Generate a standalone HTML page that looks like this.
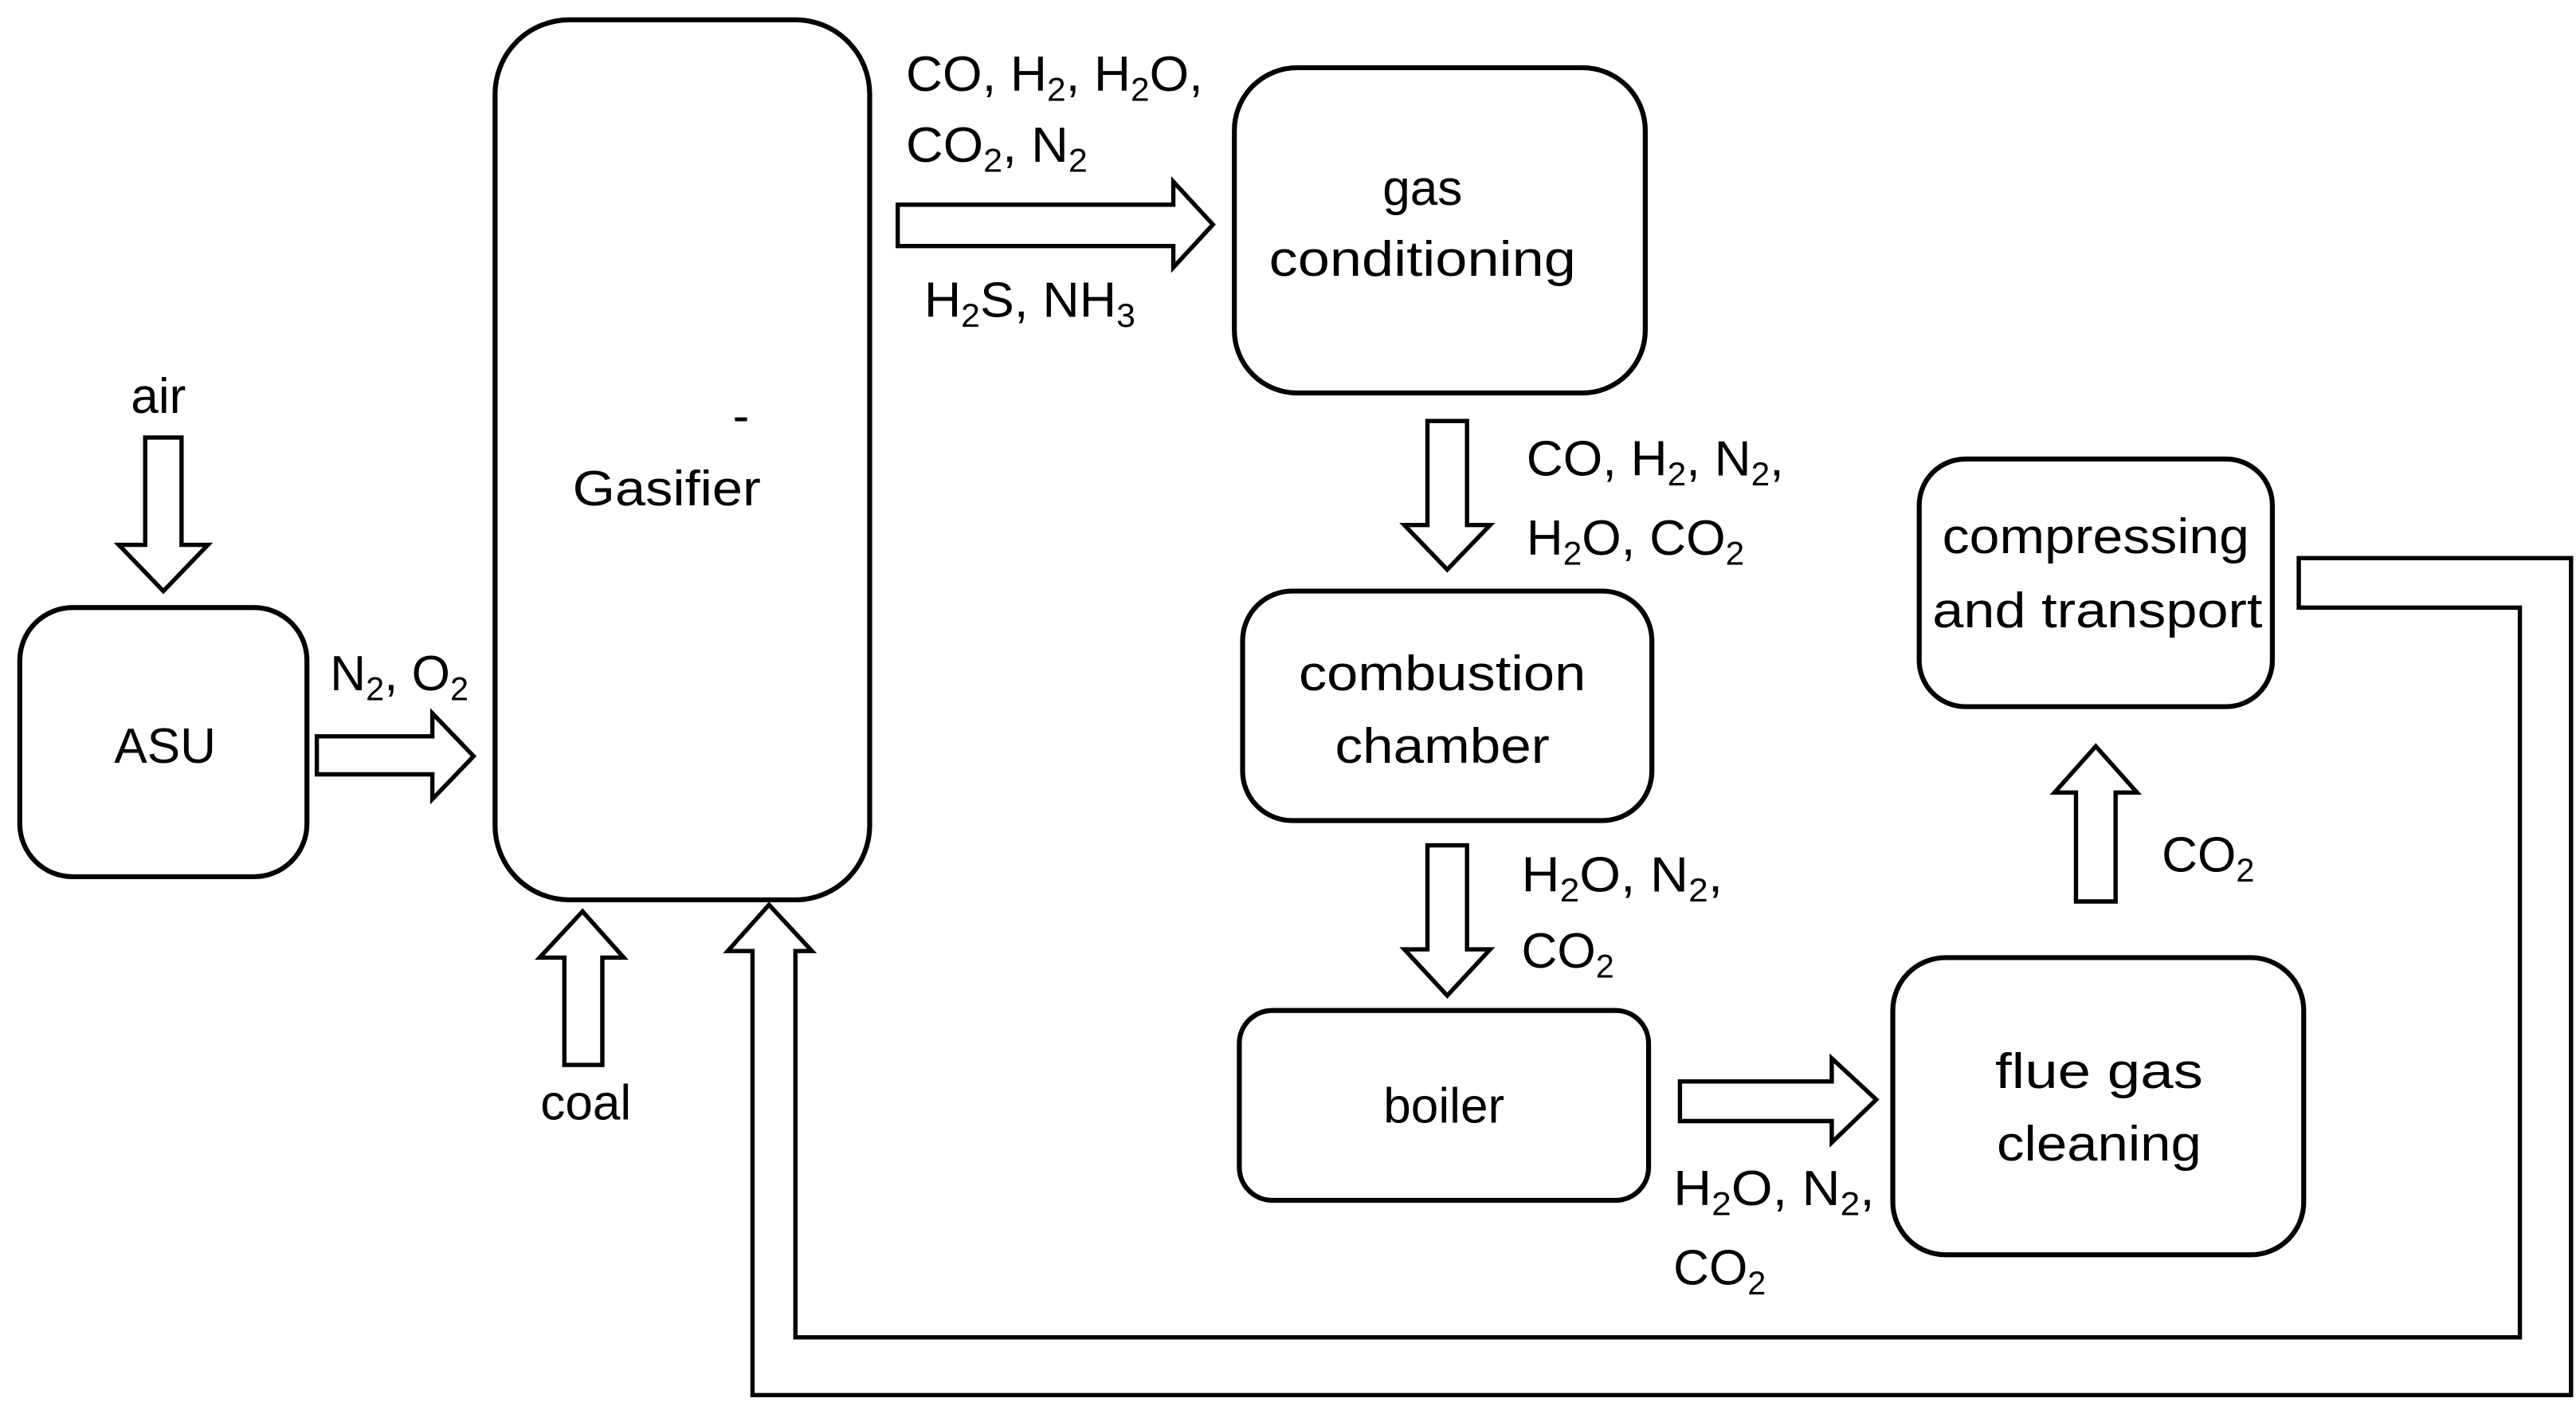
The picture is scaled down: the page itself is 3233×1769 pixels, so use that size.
<!DOCTYPE html>
<html><head><meta charset="utf-8"><style>
html,body{margin:0;padding:0;background:#fff;}
svg{display:block;}
text{font-family:"Liberation Sans",sans-serif;font-size:30px;fill:#000;}
tspan.s{font-size:20px;}
</style></head><body>
<svg width="3233" height="1769" viewBox="0 0 1561 854" preserveAspectRatio="none" xmlns="http://www.w3.org/2000/svg">
<g fill="none" stroke="#000" stroke-width="3">
<rect x="12" y="368" width="174" height="163" rx="32"/>
<rect x="300" y="12" width="227" height="533" rx="45"/>
<rect x="748" y="41" width="249" height="197" rx="38"/>
<rect x="753" y="358" width="248" height="139" rx="30"/>
<rect x="751" y="612" width="248" height="115" rx="20"/>
<rect x="1147" y="580" width="249" height="180" rx="32"/>
<rect x="1163" y="278" width="214" height="150" rx="28"/>
</g>
<g fill="#fff" stroke="#000" stroke-width="2.6" stroke-linejoin="miter">
<path d="M88,265 L110,265 L110,330 L126,330 L99,358 L72,330 L88,330 Z"/>
<path d="M192,446 L262,446 L262,432 L287,458 L262,484 L262,469 L192,469 Z"/>
<path d="M544,124 L711,124 L711,110 L735,136 L711,162 L711,149 L544,149 Z"/>
<path d="M865,255 L889,255 L889,318 L903,318 L877,345 L851,318 L865,318 Z"/>
<path d="M865,512 L889,512 L889,575 L903,575 L877,603 L851,575 L865,575 Z"/>
<path d="M1018,655 L1110,655 L1110,641 L1137,666 L1110,692 L1110,679 L1018,679 Z"/>
<path d="M1258,546 L1282,546 L1282,480 L1295,480 L1270,452 L1245,480 L1258,480 Z"/>
<path d="M342,645 L365,645 L365,580 L378,580 L353,552 L327,580 L342,580 Z"/>
<path d="M466,548 L492,576 L482,576 L482,810 L1527,810 L1527,368 L1393,368 L1393,338 L1558,338 L1558,845 L456,845 L456,576 L441,576 Z"/>
</g>
<text x="96" y="250" text-anchor="middle">air</text>
<text x="100" y="462" text-anchor="middle">ASU</text>
<text x="200" y="418">N<tspan class="s" dy="6">2</tspan><tspan dy="-6">, O</tspan><tspan class="s" dy="6">2</tspan></text>
<text x="444" y="262">-</text>
<text x="404" y="306" text-anchor="middle" textLength="114" lengthAdjust="spacingAndGlyphs">Gasifier</text>
<text x="355" y="678" text-anchor="middle">coal</text>
<text x="549" y="55" textLength="180" lengthAdjust="spacingAndGlyphs">CO, H<tspan class="s" dy="6">2</tspan><tspan dy="-6">, H</tspan><tspan class="s" dy="6">2</tspan><tspan dy="-6">O,</tspan></text>
<text x="549" y="98" textLength="110" lengthAdjust="spacingAndGlyphs">CO<tspan class="s" dy="6">2</tspan><tspan dy="-6">, N</tspan><tspan class="s" dy="6">2</tspan></text>
<text x="560" y="192" textLength="128" lengthAdjust="spacingAndGlyphs">H<tspan class="s" dy="6">2</tspan><tspan dy="-6">S, NH</tspan><tspan class="s" dy="6">3</tspan></text>
<text x="862" y="124" text-anchor="middle">gas</text>
<text x="862" y="167" text-anchor="middle" textLength="186" lengthAdjust="spacingAndGlyphs">conditioning</text>
<text x="925" y="288" textLength="156" lengthAdjust="spacingAndGlyphs">CO, H<tspan class="s" dy="6">2</tspan><tspan dy="-6">, N</tspan><tspan class="s" dy="6">2</tspan><tspan dy="-6">,</tspan></text>
<text x="925" y="336" textLength="132" lengthAdjust="spacingAndGlyphs">H<tspan class="s" dy="6">2</tspan><tspan dy="-6">O, CO</tspan><tspan class="s" dy="6">2</tspan></text>
<text x="874" y="418" text-anchor="middle" textLength="174" lengthAdjust="spacingAndGlyphs">combustion</text>
<text x="874" y="462" text-anchor="middle" textLength="130" lengthAdjust="spacingAndGlyphs">chamber</text>
<text x="922" y="540" textLength="122" lengthAdjust="spacingAndGlyphs">H<tspan class="s" dy="6">2</tspan><tspan dy="-6">O, N</tspan><tspan class="s" dy="6">2</tspan><tspan dy="-6">,</tspan></text>
<text x="922" y="586">CO<tspan class="s" dy="6">2</tspan></text>
<text x="875" y="680" text-anchor="middle">boiler</text>
<text x="1272" y="659" text-anchor="middle" textLength="126" lengthAdjust="spacingAndGlyphs">flue gas</text>
<text x="1272" y="703" text-anchor="middle" textLength="124" lengthAdjust="spacingAndGlyphs">cleaning</text>
<text x="1014" y="730" textLength="122" lengthAdjust="spacingAndGlyphs">H<tspan class="s" dy="6">2</tspan><tspan dy="-6">O, N</tspan><tspan class="s" dy="6">2</tspan><tspan dy="-6">,</tspan></text>
<text x="1014" y="778">CO<tspan class="s" dy="6">2</tspan></text>
<text x="1270" y="335" text-anchor="middle" textLength="186" lengthAdjust="spacingAndGlyphs">compressing</text>
<text x="1271" y="380" text-anchor="middle" textLength="200" lengthAdjust="spacingAndGlyphs">and transport</text>
<text x="1310" y="528">CO<tspan class="s" dy="6">2</tspan></text>
</svg>
</body></html>
